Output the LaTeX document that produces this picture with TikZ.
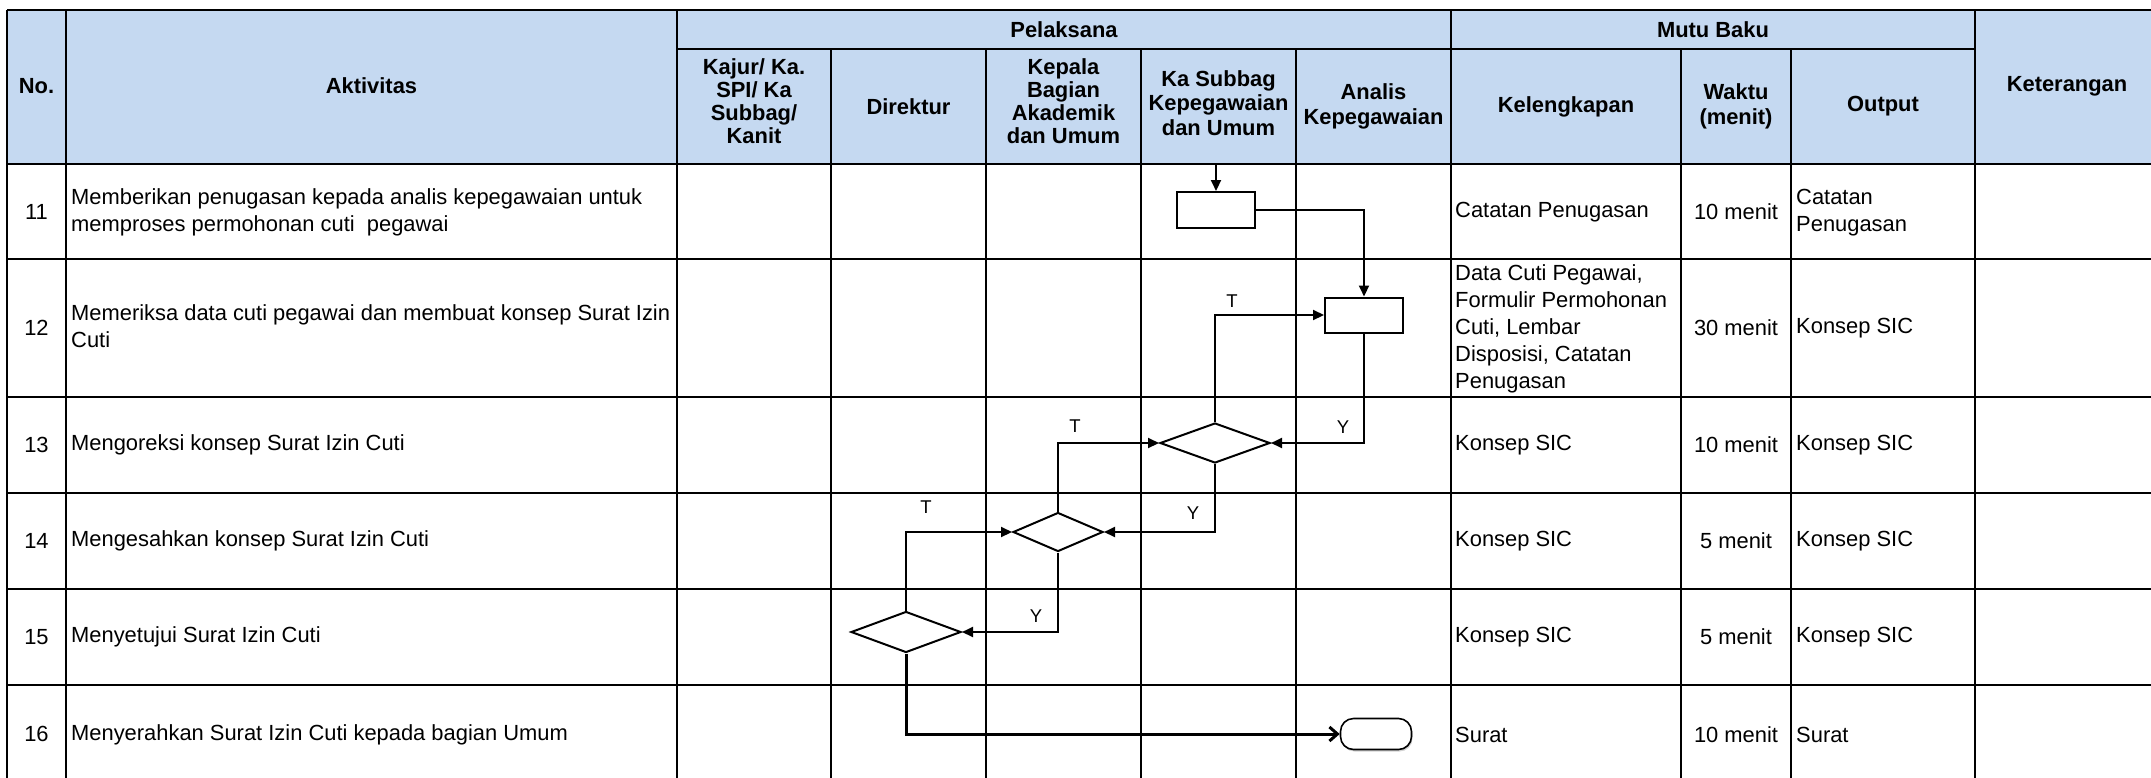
\documentclass[tikz,border=0pt]{standalone}
\usepackage{fontspec}
\setmainfont{Liberation Sans}
\usetikzlibrary{arrows.meta,shapes.geometric,shadows}
\definecolor{hdr}{HTML}{C5D9F1}
\begin{document}
\begin{tikzpicture}[x=1pt,y=-1pt,
  grid/.style={line width=2.6pt},
  hd/.style={font=\fontsize{21.9}{24.5}\selectfont\bfseries, align=center, inner sep=0pt},
  hdt/.style={font=\fontsize{21.9}{23}\selectfont\bfseries, align=center, inner sep=0pt},
  tx/.style={font=\fontsize{21.9}{27}\selectfont, align=left, inner sep=0pt, anchor=west},
  ct/.style={font=\fontsize{21.9}{27}\selectfont, align=center, inner sep=0pt},
  proc/.style={draw, line width=2pt, minimum width=78pt, minimum height=36pt, inner sep=0pt},
  dec/.style={draw, diamond, line width=2pt, inner sep=0pt, minimum width=110pt, minimum height=40pt},
  flow/.style={line width=2pt, -{Triangle[length=11pt,width=10pt]}},
  endflow/.style={line width=3pt, -{Straight Barb[length=8pt,width=14pt]}},
  term/.style={draw, fill=white, line width=1.6pt, rounded corners=13pt, minimum width=71pt, minimum height=31pt, inner sep=0pt,
    drop shadow={shadow xshift=1pt, shadow yshift=-2pt, opacity=0.35}},
  lbl/.style={font=\fontsize{18.5}{20}\selectfont, inner sep=0pt},
]
\useasboundingbox (0,0) rectangle (2151,777);
% header fill
\fill[hdr] (7,10) rectangle (2160,164);
% horizontal lines
\draw[grid] (7,10) -- (2160,10);
\draw[grid] (677,49) -- (1975,49);
\foreach \yy in {164,259,397,493,589,685,782} \draw[grid] (7,\yy) -- (2160,\yy);
% vertical lines
\foreach \xx in {7,66,677,1451,1975,2160} \draw[grid] (\xx,10) -- (\xx,782);
\foreach \xx in {831,986,1141,1296,1681,1791} \draw[grid] (\xx,49) -- (\xx,782);
% header text
\node[hd] (hNo) at (36.5,86) {No.};
\node[hd] (hAkt) at (371.5,86) {Aktivitas};
\node[hd] (hPel) at (1064,29.5) {Pelaksana};
\node[hd] (hMutu) at (1713,29.5) {Mutu Baku};
\node[hd] (hKet) at (2067,86) {Keterangan};
\node[hdt] (hKaj) at (754,101) {Kajur/ Ka.\\SPI/ Ka\\Subbag/\\Kanit};
\node[hd] (hDir) at (908.5,106.5) {Direktur};
\node[hdt] (hKep) at (1063.5,101) {Kepala\\Bagian\\Akademik\\dan Umum};
\node[hd] (hKas) at (1218.5,103) {Ka Subbag\\Kepegawaian\\dan Umum};
\node[hd] (hAna) at (1373.5,106.5) {Analis\\Kepegawaian};
\node[hd] (hKel) at (1566,106.5) {Kelengkapan};
\node[hd] (hWak) at (1736,106.5) {Waktu\\(menit)};
\node[hd] (hOut) at (1883,106.5) {Output};
% row numbers
\node[ct] (n11) at (36.5,211.5) {11};
\node[ct] (n12) at (36.5,328) {12};
\node[ct] (n13) at (36.5,445) {13};
\node[ct] (n14) at (36.5,541) {14};
\node[ct] (n15) at (36.5,637) {15};
\node[ct] (n16) at (36.5,734) {16};
% activities
\node[tx] (a11) at (71,212) {Memberikan penugasan kepada analis kepegawaian untuk\\memproses permohonan cuti\ \ pegawai};
\node[tx] (a12) at (71,326) {Memeriksa data cuti pegawai dan membuat konsep Surat Izin\\Cuti};
\node[tx] (a13) at (71,445) {Mengoreksi konsep Surat Izin Cuti};
\node[tx] (a14) at (71,541) {Mengesahkan konsep Surat Izin Cuti};
\node[tx] (a15) at (71,637) {Menyetujui Surat Izin Cuti};
\node[tx] (a16) at (71,735) {Menyerahkan Surat Izin Cuti kepada bagian Umum};
% kelengkapan
\node[tx] (k11) at (1455,212) {Catatan Penugasan};
\node[tx] (k12) at (1455,329) {Data Cuti Pegawai,\\Formulir Permohonan\\Cuti, Lembar\\Disposisi, Catatan\\Penugasan};
\node[tx] (k13) at (1455,445) {Konsep SIC};
\node[tx] (k14) at (1455,541) {Konsep SIC};
\node[tx] (k15) at (1455,637) {Konsep SIC};
\node[tx] (k16) at (1455,735) {Surat};
% waktu
\node[ct] (w11) at (1736,212) {10 menit};
\node[ct] (w12) at (1736,328) {30 menit};
\node[ct] (w13) at (1736,445) {10 menit};
\node[ct] (w14) at (1736,541) {5 menit};
\node[ct] (w15) at (1736,637) {5 menit};
\node[ct] (w16) at (1736,735) {10 menit};
% output
\node[tx] (o11) at (1796,213) {Catatan\\Penugasan};
\node[tx] (o12) at (1796,328) {Konsep SIC};
\node[tx] (o13) at (1796,445) {Konsep SIC};
\node[tx] (o14) at (1796,541) {Konsep SIC};
\node[tx] (o15) at (1796,637) {Konsep SIC};
\node[tx] (o16) at (1796,735) {Surat};
% flowchart shapes
\coordinate (s0) at (1216,164);
\node[proc] (r1) at (1216,210) {};
\node[proc, minimum height=35pt] (r2) at (1364,315) {};
\node[dec] (d13) at (1215,443) {};
\node[dec, minimum width=90pt, minimum height=39pt] (d14) at (1058,532) {};
\node[dec, minimum height=41pt] (d15) at (906,632) {};
\node[term] (tm) at (1376,734) {};
% connectors
\draw[flow] (s0) -- (r1.north);
\draw[flow] (r1.east) -| (r2.north);
\draw[flow] (r2.south) |- (d13.east);
\draw[flow] (d13.north) |- (r2.west);
\draw[flow] (d13.south) |- (d14.east);
\draw[flow] (d14.north) |- (d13.west);
\draw[flow] (d14.south) |- (d15.east);
\draw[flow] (d15.north) |- (d14.west);
\draw[endflow] (d15.south) |- (tm.west);
% labels
\node[lbl] (t1) at (1232,301) {T};
\node[lbl] (y1) at (1343,427) {Y};
\node[lbl] (t2) at (1075,426) {T};
\node[lbl] (y2) at (1193,513) {Y};
\node[lbl] (t3) at (926,507) {T};
\node[lbl] (y3) at (1036,616) {Y};
\end{tikzpicture}
\end{document}
